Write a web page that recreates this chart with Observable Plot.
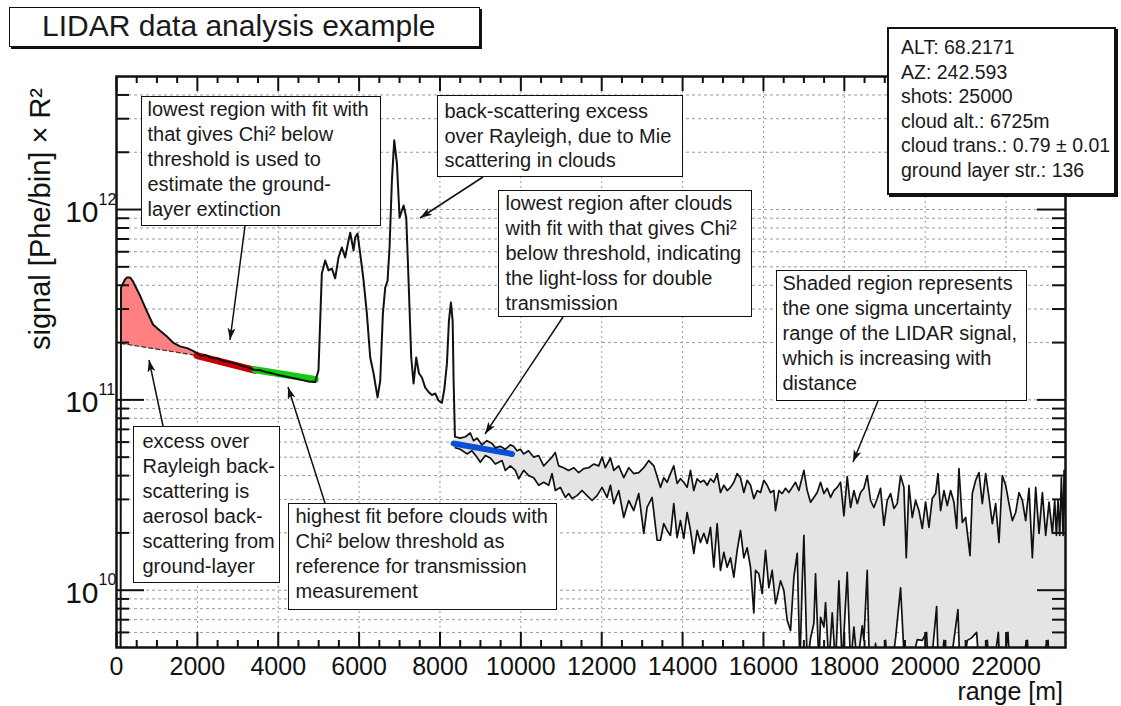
<!DOCTYPE html>
<html><head><meta charset="utf-8">
<script src="https://cdn.jsdelivr.net/npm/d3@7"></script>
<script src="https://cdn.jsdelivr.net/npm/@observablehq/plot@0.6"></script>
<style>
body{margin:0;background:#fff;font-family:"Liberation Sans",Arial,sans-serif;}
#wrap{position:relative;width:1121px;height:706px;overflow:hidden;background:#fff;}
.box{position:absolute;background:#fff;border:1.5px solid #111;box-sizing:border-box;font-size:20px;line-height:25px;color:#1a1a1a;white-space:nowrap;}
</style></head><body>
<div id="wrap"></div>
<script>
// ---------------- data (range in m, signal in Phe/bin x R^2) ----------------
const signal = [
 [100,3e9],[111,3.89e11],[210,4.29e11],[260,4.40e11],[334,4.40e11],[408,4.19e11],[582,3.53e11],[755,2.91e11],
 [903,2.49e11],[1077,2.31e11],[1250,2.15e11],[1398,2.00e11],[1572,1.91e11],[1745,1.87e11],[1869,1.82e11],[1992,1.76e11],
 [2100,1.70e11],[2200,1.72e11],[2350,1.66e11],[2500,1.65e11],[2650,1.60e11],[2800,1.58e11],[2950,1.55e11],[3100,1.51e11],
 [3250,1.48e11],[3400,1.44e11],[3550,1.43e11],[3700,1.40e11],[3850,1.38e11],[4000,1.35e11],[4150,1.33e11],[4300,1.31e11],
 [4450,1.29e11],[4600,1.27e11],[4750,1.25e11],[4913,1.24e11],[4996,1.43e11],[5078,4.61e11],[5161,5.40e11],[5243,4.79e11],
 [5326,4.9e11],[5408,4.35e11],[5491,5.60e11],[5573,6.32e11],[5656,5.60e11],[5738,6.88e11],[5780,7.55e11],[5862,6.10e11],
 [5903,7.13e11],[5961,7.48e11],[6027,5.87e11],[6110,4.24e11],[6192,2.84e11],[6275,1.67e11],[6357,1.38e11],[6456,1.03e11],
 [6522,1.26e11],[6588,2.84e11],[6646,3.89e11],[6704,4.24e11],[6753,6.32e11],[6811,1.42e12],[6869,2.31e12],[6935,1.75e12],
 [7001,9.08e11],[7058,9.88e11],[7100,1.05e12],[7166,9.08e11],[7223,4.24e11],[7289,1.67e11],[7347,1.22e11],[7413,1.67e11],
 [7479,1.38e11],[7553,1.31e11],[7636,1.16e11],[7718,1.10e11],[7801,1.06e11],[7883,1.08e11],[7966,9.9e10],[8048,9.65e10],
 [8106,1.13e11],[8172,1.55e11],[8222,2.61e11],[8271,3.25e11],[8313,2.61e11],[8337,1.26e11],[8370,6.4e10]
];
const rayleigh = [[111,1.98e11],[1992,1.71e11]];
const fitGround = [[1992,1.71e11],[3428,1.43e11]];
const fitBeforeClouds = [[3428,1.44e11],[4913,1.28e11]];
const fitAfterClouds = [[8337,5.9e10],[9781,5.2e10]];
const upperBound = [
 [8380,6.4e10],[8500,6.3e10],[8630,6.4e10],[8750,6.7e10],[8830,6.1e10],[8915,6.3e10],[9040,5.8e10],[9160,6.1e10],
 [9290,5.9e10],[9370,5.6e10],[9490,5.7e10],[9615,5.5e10],[9740,5.8e10],[9820,5.7e10],[9905,5.4e10],[9990,5.5e10],
 [10070,5.2e10],[10190,5.4e10],[10320,5.0e10],[10440,5.1e10],[10565,4.5e10],[10650,4.7e10],[10770,5.0e10],[10850,5.3e10],
 [10935,4.5e10],[11060,4.4e10],[11180,4.26e10],[11310,4.4e10],[11430,4.15e10],[11555,4.35e10],[11680,4.4e10],[11800,4.6e10],
 [11925,4.5e10],[12010,5.0e10],[12090,4.4e10],[12215,4.95e10],[12300,4.26e10],[12420,4.5e10],[12545,3.9e10],[12670,4.4e10],
 [12790,4.1e10],[12915,4.15e10],[13040,4.4e10],[13165,4.8e10],[13290,4.5e10],
 [13452,3.47e10],[13535,3.9e10],[13617,3.69e10],[13700,4.1e10],[13782,4.5e10],[13865,3.64e10],[13947,3.85e10],[14030,3.69e10],
 [14112,3.47e10],[14195,4.26e10],[14277,3.34e10],[14360,3.85e10],[14442,3.69e10],[14525,3.78e10],[14607,3.56e10],[14690,3.85e10],
 [14772,3.69e10],[14855,4.1e10],[14937,3.26e10],[15020,3.56e10],[15102,3.34e10],[15185,3.47e10],[15267,3.69e10],[15350,4.1e10],
 [15432,3.9e10],[15515,3.26e10],[15597,3.78e10],[15680,3.56e10],[15762,3.03e10],[15845,3.34e10],[15927,3.26e10],[16010,3.78e10],
 [16092,3.56e10],[16175,3.26e10],[16257,3.34e10],[16298,2.62e10],[16381,3.34e10],[16463,3.22e10],[16546,3.43e10],[16628,3.26e10],
 [16711,3.47e10],[16793,3.69e10],[16876,3.34e10],[17000,4.26e10],[17082,3.34e10],[17165,2.9e10],[17247,3.07e10],[17330,3.26e10],
 [17412,3.69e10],[17495,3.22e10],[17577,3.43e10],[17660,3.07e10],[17742,3.34e10],[17825,3.47e10],[17907,3.69e10],[17990,2.46e10],
 [18072,3.95e10],[18155,2.72e10],[18237,3.34e10],[18320,2.85e10],
 [18402,3.26e10],[18484,3.43e10],[18566,4.0e10],[18649,2.96e10],[18731,2.72e10],[18814,3.03e10],[18896,3.43e10],[18979,2.19e10],
 [19061,2.96e10],[19144,3.22e10],[19226,2.69e10],[19309,2.85e10],[19391,4.0e10],[19474,3.47e10],[19532,1.48e10],[19598,3.56e10],
 [19680,2.41e10],[19763,2.96e10],[19845,2.62e10],[19928,2.11e10],[20010,2.9e10],[20093,2.14e10],[20175,3.03e10],[20258,3.22e10],
 [20316,4.1e10],[20381,2.62e10],[20464,3.34e10],[20546,2.78e10],[20629,3.34e10],[20711,2.9e10],[20778,2.11e10],[20835,4.36e10],
 [20918,2.27e10],[21000,2.41e10],[21108,1.52e10],[21165,3.22e10],[21248,3.78e10],[21330,4.15e10],[21413,2.85e10],[21495,4.1e10],
 [21578,3.07e10],[21660,2.24e10],[21743,2.85e10],[21825,1.78e10],[21908,4.0e10],[21990,3.56e10],[22073,2.85e10],[22155,2.32e10],
 [22238,2.56e10],[22320,3.26e10],[22403,2.96e10],[22485,2.32e10],[22568,3.43e10],[22650,1.48e10],[22733,3.47e10],[22815,1.99e10],
 [22898,3.26e10],[22980,1.94e10],[23063,2.9e10],[23145,1.99e10],[23203,2.96e10],[23245,1.94e10],[23285,2.96e10],[23327,1.94e10],
 [23368,3.9e10],[23410,1.94e10],[23435,4.26e10],[23470,2.5e10]
];
const lowerBound = [
 [8378,5.6e10],[8502,5.5e10],[8667,5.2e10],[8791,5.4e10],[8915,5.0e10],[8997,4.7e10],[9121,5.1e10],[9245,4.95e10],
 [9370,4.6e10],[9535,4.8e10],[9616,4.26e10],[9740,4.5e10],[9864,4.26e10],[9946,3.85e10],[10070,4.26e10],[10194,4.0e10],
 [10317,3.9e10],[10441,3.56e10],[10565,3.69e10],[10689,3.56e10],[10771,4.1e10],[10854,3.34e10],[10977,3.47e10],[11101,3.07e10],
 [11183,3.22e10],[11266,3.03e10],[11390,3.14e10],[11513,3.34e10],[11637,3.14e10],[11761,2.96e10],[11885,3.14e10],[12008,3.47e10],
 [12132,3.07e10],[12215,3.56e10],[12297,2.85e10],[12421,3.34e10],[12545,2.41e10],[12668,2.96e10],[12792,2.62e10],[12916,3.22e10],
 [13040,1.99e10],[13122,2.72e10],[13246,3.07e10],[13370,1.83e10],
 [13452,1.83e10],[13535,2.24e10],[13617,2.06e10],[13700,1.94e10],[13782,2.85e10],[13865,1.89e10],[13947,2.32e10],[14030,1.87e10],
 [14112,2.56e10],[14195,2.06e10],[14277,1.56e10],[14360,2.06e10],[14442,1.78e10],[14525,1.99e10],[14607,1.76e10],[14690,2.14e10],
 [14772,1.32e10],[14855,2.24e10],[14937,1.27e10],[15020,1.58e10],[15102,1.32e10],[15185,1.48e10],[15267,1.17e10],[15350,1.62e10],
 [15432,2.06e10],[15515,1.48e10],[15597,1.67e10],[15680,1.32e10],[15762,7.6e9],[15804,1.27e10],[15886,1.22e10],[15968,9.6e9],
 [16051,1.62e10],[16133,1.03e10],[16216,1.27e10],[16298,8.5e9],[16340,9.2e9],[16422,1.12e10],[16505,9.97e9],[16587,6.93e9],
 [16670,6.14e9],[16752,1.17e10],[16835,1.56e10],[16901,4e9],[16958,1.08e10],[17000,1.94e10],[17082,4e9],[17165,5.6e9],
 [17247,6.7e9],[17288,1.22e10],[17371,4e9],[17412,7.2e9],[17495,6.4e9],[17536,8.6e9],[17618,4e9],[17701,7.6e9],
 [17783,4e9],[17866,1.12e10],[17948,4e9],[18030,8.5e9],[18072,1.24e10],[18155,4e9],[18237,6.4e9],[18320,4e9],
 [18443,6.5e9],[18484,5.45e9],[18566,1.27e10],[18633,3e9],[18773,5.25e9],[18855,3e9],[19020,5.45e9],[19103,3e9],
 [19268,5.6e9],[19391,1.03e10],[19458,5.45e9],[19515,3e9],[19804,5.5e9],[19928,5.45e9],[20035,6.0e9],[20093,3e9],
 [20283,8.2e9],[20340,3e9],[20464,5.45e9],[20546,3e9],[20810,7.9e9],[20876,3e9],[21041,5.45e9],[21140,5.6e9],
 [21272,6.0e9],[21371,3e9],[21536,5.45e9],[21619,3e9],[21809,6.0e9],[21866,3e9],[22048,6.0e9],[22114,3e9],
 [22527,5.45e9],[22609,3e9],[23038,5.45e9],[23104,3e9],[23470,3e9]
];
const xMajorTicks = [0,2000,4000,6000,8000,10000,12000,14000,16000,18000,20000,22000];
const xTickLabels = ["0","2000","4000","6000","8000","10000","12000","14000","16000","18000","20000","22000"];
const yDecades = [1e10,1e11,1e12];
const yExponents = ["10","11","12"];
const statsLines = ["ALT: 68.2171","AZ: 242.593","shots: 25000","cloud alt.: 6725m","cloud trans.: 0.79 ± 0.01","ground layer str.: 136"];

// ---------------- layout ----------------
const W = 1121, H = 706, mL = 116, mR = 56, mT = 76, mB = 59;
const plotW = W - mL - mR, plotH = H - mT - mB;
const xMinorTicks = d3.range(500, 23470, 500).filter(d => d % 2000 !== 0);
const yMinorTicks = [];
for (const e of [9,10,11,12]) for (let k = 2; k <= 9; k++) { const v = k * Math.pow(10, e); if (v > 5.01e9 && v < 4.99e12) yMinorTicks.push(v); }
const yGrid = yMinorTicks.concat(yDecades);
const xGrid = xMajorTicks.slice(1);

const pt = a => a.map(([r, v]) => ({r, v}));
const band = pt(upperBound.concat(lowerBound.slice().reverse()));
const pink = pt(signal.filter(d => d[0] >= 111 && d[0] <= 1992).concat(rayleigh.slice().reverse()));
const ink = "#111";

const chart = Plot.plot({
  width: W, height: H, marginLeft: mL, marginRight: mR, marginTop: mT, marginBottom: mB,
  style: {fontFamily: "Liberation Sans, Arial, sans-serif", background: "white", color: ink},
  x: {domain: [0, 23470], axis: null},
  y: {type: "log", domain: [5e9, 5e12], axis: null},
  marks: [
    Plot.ruleX(xGrid, {x: d => d, stroke: "#9a9a9a", strokeDasharray: "2,3"}),
    Plot.ruleY(yGrid, {y: d => d, stroke: "#9a9a9a", strokeDasharray: "3,3"}),
    Plot.line(band, {x: "r", y: "v", fill: "#e4e4e4", stroke: "none", clip: true}),
    Plot.line(pink, {x: "r", y: "v", fill: "#ff8080", stroke: "none", clip: true}),
    Plot.line(pt(rayleigh), {x: "r", y: "v", stroke: "#333", strokeWidth: 1.2, strokeDasharray: "4,3"}),
    Plot.line(pt(fitGround), {x: "r", y: "v", stroke: "#cc0000", strokeWidth: 7}),
    Plot.line(pt(fitBeforeClouds), {x: "r", y: "v", stroke: "#11cc11", strokeWidth: 7}),
    Plot.line(pt(fitAfterClouds), {x: "r", y: "v", stroke: "#0a4fd6", strokeWidth: 6}),
    Plot.line(pt(signal), {x: "r", y: "v", stroke: ink, strokeWidth: 2, clip: true}),
    Plot.line(pt(upperBound), {x: "r", y: "v", stroke: ink, strokeWidth: 1.7, clip: true}),
    Plot.line(pt(lowerBound), {x: "r", y: "v", stroke: ink, strokeWidth: 1.7, clip: true}),
    // ticks, ROOT style: inside the frame on all four sides
    Plot.tickX(xMajorTicks, {x: d => d, insetTop: plotH - 15, strokeWidth: 2}),
    Plot.tickX(xMinorTicks, {x: d => d, insetTop: plotH - 7, strokeWidth: 2}),
    Plot.tickX(xMajorTicks, {x: d => d, insetBottom: plotH - 15, strokeWidth: 2}),
    Plot.tickX(xMinorTicks, {x: d => d, insetBottom: plotH - 7, strokeWidth: 2}),
    Plot.tickY(yDecades, {y: d => d, insetRight: plotW - 28, strokeWidth: 2}),
    Plot.tickY(yMinorTicks, {y: d => d, insetRight: plotW - 13, strokeWidth: 2}),
    Plot.tickY(yDecades, {y: d => d, insetLeft: plotW - 28, strokeWidth: 2}),
    Plot.tickY(yMinorTicks, {y: d => d, insetLeft: plotW - 13, strokeWidth: 2}),
    Plot.frame({stroke: ink, strokeWidth: 2.5}),
    Plot.text(xMajorTicks, {x: d => d, frameAnchor: "bottom", dy: 19, text: (d, i) => xTickLabels[i], fontSize: 25, lineAnchor: "middle", fill: ink}),
    Plot.text(yDecades, {y: d => d, frameAnchor: "left", dx: -18, dy: 3, text: () => "10", textAnchor: "end", fontSize: 30, lineAnchor: "middle", fill: ink}),
    Plot.text(yDecades, {y: d => d, frameAnchor: "left", dx: -18, dy: -10, text: (d, i) => yExponents[i], textAnchor: "start", fontSize: 16, lineAnchor: "middle", fill: ink})
  ]
});
const wrap = document.getElementById("wrap");
chart.style.position = "absolute"; chart.style.left = "0px"; chart.style.top = "0px";
wrap.appendChild(chart);

// ---------------- overlay: axis titles and arrows ----------------
const ov = d3.select(wrap).append("svg").attr("width", W).attr("height", H)
  .style("position", "absolute").style("left", 0).style("top", 0)
  .style("font-family", "Liberation Sans, Arial, sans-serif");
ov.append("defs").append("marker").attr("id", "ah").attr("viewBox", "0 0 12 8")
  .attr("refX", 12).attr("refY", 4).attr("markerWidth", 13).attr("markerHeight", 8)
  .attr("markerUnits", "userSpaceOnUse").attr("orient", "auto")
  .append("path").attr("d", "M0,0L12,4L0,8L3,4z").attr("fill", ink);
const arrows = [[245,226,230,340],[483,177,420,218],[563,317,485,434],[878,401,853,462],[163,426,149,360],[325,503,288,387]];
ov.selectAll("line.ar").data(arrows).join("line")
  .attr("x1", d => d[0]).attr("y1", d => d[1]).attr("x2", d => d[2]).attr("y2", d => d[3])
  .attr("stroke", ink).attr("stroke-width", 1.5).attr("marker-end", "url(#ah)");
ov.append("text").attr("x", 1063).attr("y", 691).attr("text-anchor", "end").attr("dominant-baseline", "central")
  .attr("font-size", 25).attr("fill", ink).text("range [m]");
ov.append("text").attr("transform", "translate(40,88) rotate(-90)").attr("text-anchor", "end")
  .attr("dominant-baseline", "central").attr("font-size", 29).attr("fill", ink).text("signal [Phe/bin] × R²");

// ---------------- text boxes ----------------
function box(left, top, w, h, lines, pad, extra) {
  const d = document.createElement("div");
  d.className = "box";
  Object.assign(d.style, {left: left + "px", top: top + "px", width: w + "px", height: h + "px", padding: pad}, extra || {});
  d.innerHTML = lines.map(s => "<div>" + s + "</div>").join("");
  wrap.appendChild(d);
}
box(9, 7, 471, 40, ["LIDAR data analysis example"], "0 0 0 32px", {fontSize: "30px", lineHeight: "36px", boxShadow: "2px 2px 0 #111"});
box(887, 27, 229, 168, statsLines, "6px 0 0 12px", {fontSize: "19.5px", lineHeight: "24.6px", borderWidth: "2px", boxShadow: "2px 2px 0 #111"});
box(141, 96, 240, 130, ["lowest region with fit with", "that gives Chi² below", "threshold is used to", "estimate the ground-", "layer extinction"], "0 0 0 5.5px");
box(437, 95, 246, 82, ["back-scattering excess", "over Rayleigh, due to Mie", "scattering in clouds"], "3px 0 0 6.5px", {lineHeight: "24.5px"});
box(498, 190, 254, 127, ["lowest region after clouds", "with fit with that gives Chi²", "below threshold, indicating", "the light-loss for double", "transmission"], "0 0 0 6.5px");
box(776, 270, 251, 131, ["Shaded region represents", "the one sigma uncertainty", "range of the LIDAR signal,", "which is increasing with", "distance"], "0 0 0 5.5px");
box(133, 426, 147, 157, ["excess over", "Rayleigh back-", "scattering is", "aerosol back-", "scattering from", "ground-layer"], "2px 0 0 8.5px");
box(288, 503, 269, 107, ["highest fit before clouds with", "Chi² below threshold as", "reference for transmission", "measurement"], "0 0 0 6.5px");
</script>
</body></html>
